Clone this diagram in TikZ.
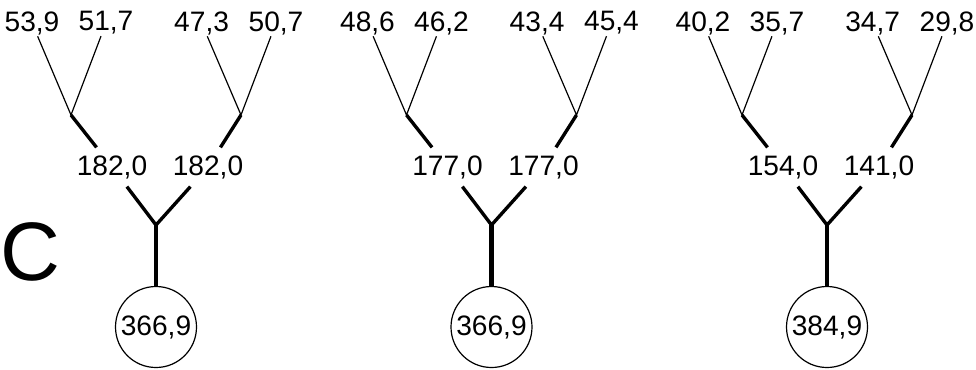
\documentclass[tikz,border=0pt]{standalone}
\usepackage{fontspec}
\setmainfont{Liberation Sans}
\usepackage{tikz}

\begin{document}
\begin{tikzpicture}[lab/.style={font=\fontsize{20}{24}\selectfont,inner sep=1pt},mid/.style={lab,inner sep=5.5pt},root/.style={lab,draw,circle,line width=0.85pt,minimum size=2.025cm,inner sep=0pt},thin/.style={line width=0.85pt},thick/.style={line width=2.4pt},thicker/.style={line width=3.3pt}]
\useasboundingbox (0,0) rectangle (24.4,-9.225);
\node[font=\fontsize{59}{64}\selectfont,inner sep=0pt] (C) at (0.75,-6.3) {C};
\foreach \t/\x/\r/\ml/\mr/\a/\b/\c/\d in {1/3.9/{366,9}/{182,0}/{182,0}/{53,9}/{51,7}/{47,3}/{50,7},2/12.2875/{366,9}/{177,0}/{177,0}/{48,6}/{46,2}/{43,4}/{45,4},3/20.675/{384,9}/{154,0}/{141,0}/{40,2}/{35,7}/{34,7}/{29,8}}{
\node[root] (r\t) at (\x,-8.175) {\r};
\coordinate (y\t) at (\x,-5.625);
\node[mid] (ml\t) at (\x-1.1,-4.175) {\ml};
\node[mid] (mr\t) at (\x+1.3,-4.175) {\mr};
\coordinate (fl\t) at (\x-2.125,-2.875);
\coordinate (fr\t) at (\x+2.125,-2.875);
\node[lab] (a\t) at (\x-3.1,-0.575) {\a};
\node[lab] (b\t) at (\x-1.25,-0.575) {\b};
\node[lab] (c\t) at (\x+1.14,-0.575) {\c};
\node[lab] (d\t) at (\x+3.0,-0.575) {\d};
\draw[thin] (a\t) -- (fl\t) -- (b\t);
\draw[thin] (c\t) -- (fr\t) -- (d\t);
\draw[thick] (fl\t) -- (ml\t);
\draw[thick] (fr\t) -- (mr\t);
\draw[thick] (ml\t) -- (y\t) -- (mr\t);
\draw[thicker] (y\t) -- (r\t);
};
\end{tikzpicture}
\end{document}
